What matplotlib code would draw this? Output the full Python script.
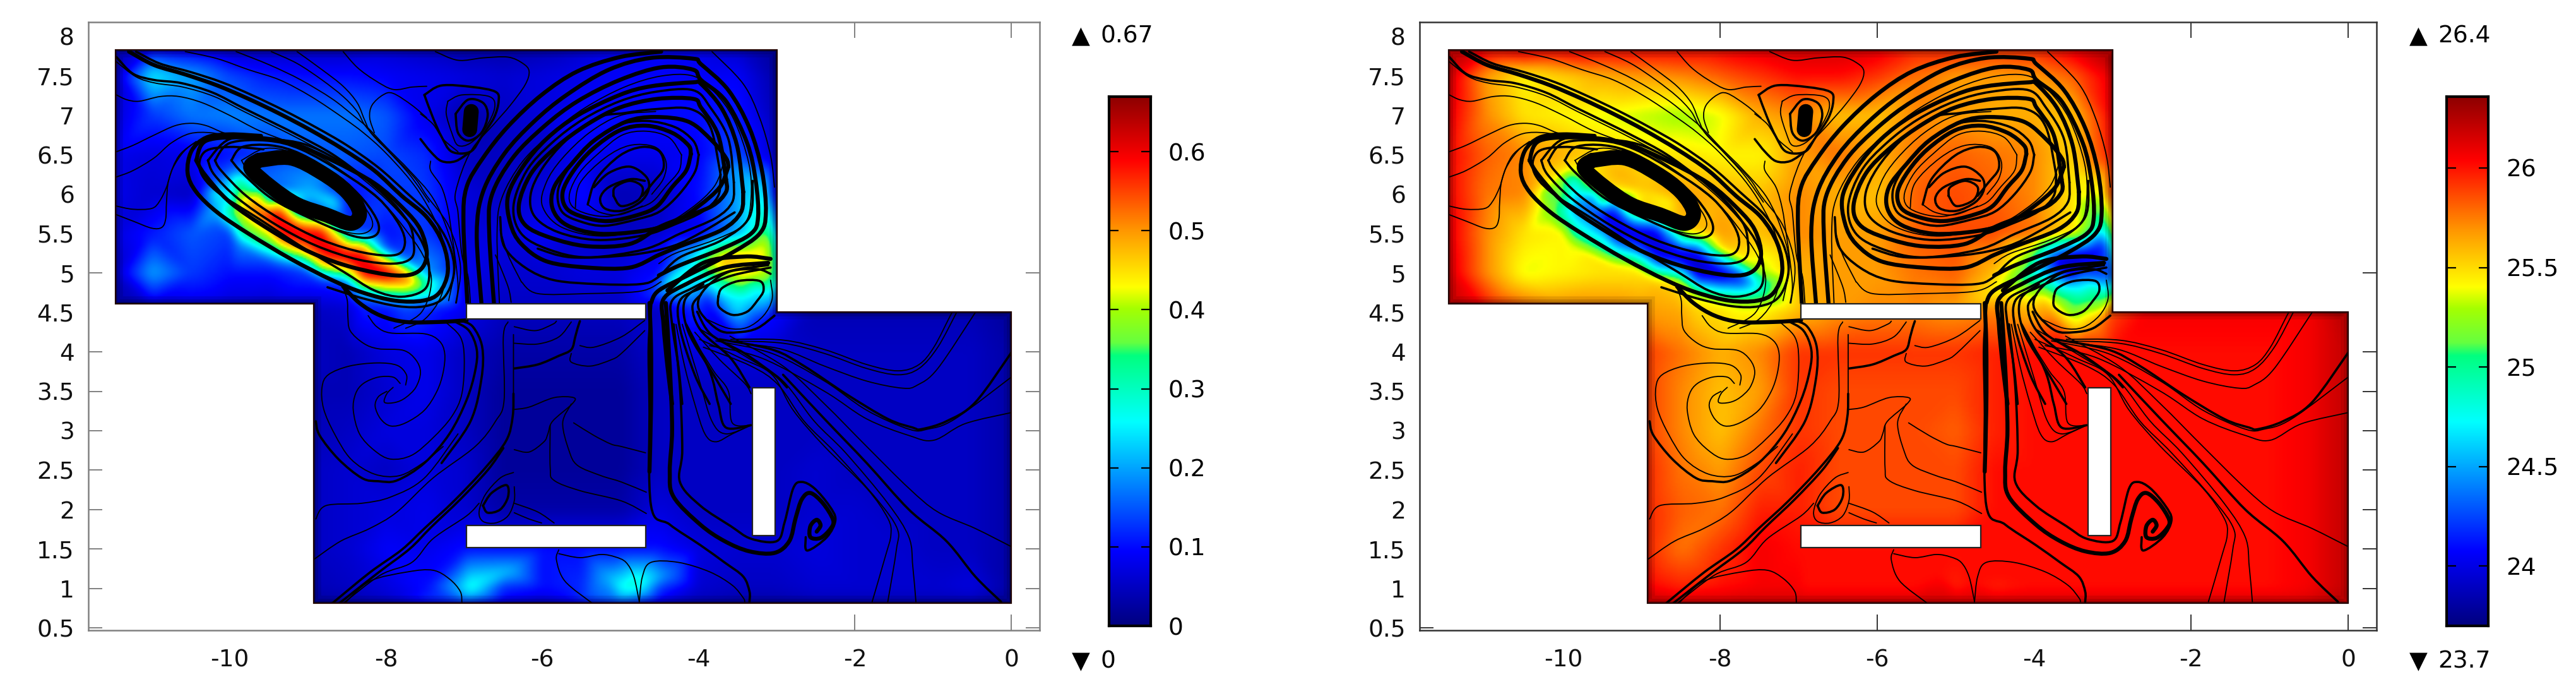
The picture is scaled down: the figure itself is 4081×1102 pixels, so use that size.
import numpy as np
import matplotlib
matplotlib.use("Agg")
import matplotlib.pyplot as plt
import matplotlib.tri as mtri
from matplotlib.colors import LinearSegmentedColormap
from matplotlib.patches import PathPatch, Rectangle
from matplotlib.path import Path

n = np.nan

# ---- geometry, in plot units
DOMAIN_X = [-11.46, -11.46, -3.0, -3.0, 0.0, 0.0, -8.93, -8.93, -11.46]
DOMAIN_Y = [4.61, 7.83, 7.83, 4.51, 4.51, 0.81, 0.81, 4.61, 4.61]
# x0, y0, x1, y1
OBSTACLES = [(-6.97, 4.42, -4.68, 4.61), (-6.97, 1.52, -4.68, 1.80), (-3.31, 1.67, -3.02, 3.545)]

X_TICKS = [-10, -8, -6, -4, -2, 0]
Y_TICKS = [0.5, 1, 1.5, 2, 2.5, 3, 3.5, 4, 4.5, 5, 5.5, 6, 6.5, 7, 7.5, 8]
Y_LABELS = ["0.5", "1", "1.5", "2", "2.5", "3", "3.5", "4", "4.5", "5", "5.5", "6", "6.5", "7", "7.5", "8"]

SPEED_TICKS = [0, 0.1, 0.2, 0.3, 0.4, 0.5, 0.6]
TEMP_TICKS = [24, 24.5, 25, 25.5, 26]

# ---- coarse field samples
FIELD_X = [-11.5, -11, -10.5, -10, -9.5, -9, -8.5, -8, -7.5, -7, -6.5, -6, -5.5, -5, -4.5, -4, -3.5, -3,
           -2.5, -2, -1.5, -1, -0.5, 0]
FIELD_Y = [7.85, 7.5, 7, 6.5, 6, 5.5, 5, 4.55, 4, 3.5, 3, 2.5, 2, 1.5, 1, 0.8]

TEMP_TOP = [
    [26.3, 26.15, 26.2, 26.15, 26.1, 26.1, 26.1, 26.1, 26.15, 26.2, 26.2, 26.15, 26.0, 26.0, 25.95, 26.0, 26.15, 26.35],
    [26.2, 25.7, 25.45, 25.55, 25.65, 25.7, 25.75, 25.85, 25.95, 26.05, 26.05, 25.95, 25.8, 25.7, 25.7, 25.7, 25.85, 26.15],
    [26.15, 25.75, 25.5, 25.45, 25.4, 25.35, 25.3, 25.4, 25.65, 25.75, 25.6, 25.6, 25.75, 25.7, 25.65, 25.65, 25.6, 26.1],
    [26.1, 25.85, 25.75, 25.65, 25.55, 25.5, 25.5, 25.45, 25.45, 25.7, 25.8, 25.65, 25.8, 25.85, 25.8, 25.75, 25.55, 26.05],
    [26.1, 25.8, 25.75, 25.2, 25.5, 25.5, 25.7, 25.65, 25.6, 25.75, 25.65, 25.6, 25.85, 25.9, 25.85, 25.75, 25.5, 26.0],
    [26.15, 25.75, 25.5, 25.45, 24.6, 23.9, 25.2, 25.7, 25.6, 25.75, 25.7, 25.7, 25.85, 25.9, 25.9, 25.8, 25.5, 25.3],
    [26.2, 25.75, 25.4, 25.45, 25.5, 25.5, 24.7, 23.95, 25.3, 25.65, 25.7, 25.7, 25.8, 25.85, 25.6, 24.8, 23.9, 24.2],
]
TEMP_MID = [26.25, 26.05, 25.85, 25.75, 25.75, 25.7, 25.65, 25.5, 25.4, 25.6, 25.7, 25.75, 25.75, 25.7, 25.75, 25.6, 25.1, 25.9,
            26.1, 26.1, 26.1, 26.1, 26.1, 26.3]
TEMP_LOW = [
    [25.95, 25.8, 25.65, 25.75, 25.95, 25.95, 25.95, 25.95, 25.95, 26.0, 26.05, 26.05, 26.05, 26.05, 26.05, 26.05, 26.05, 26.1, 26.25],
    [25.95, 25.75, 25.6, 25.7, 25.95, 25.9, 25.9, 25.9, 25.9, 26.0, 26.05, 26.05, 26.05, 26.05, 26.05, 26.05, 26.05, 26.1, 26.25],
    [25.95, 25.75, 25.6, 25.8, 25.95, 25.9, 25.9, 25.9, 25.85, 26.0, 26.05, 26.05, 26.05, 26.05, 26.05, 26.05, 26.05, 26.1, 26.25],
    [26.0, 25.8, 25.7, 25.9, 26.0, 25.9, 25.9, 25.9, 25.9, 26.05, 26.05, 26.05, 26.05, 26.05, 26.05, 26.05, 26.05, 26.1, 26.25],
    [26.0, 25.85, 25.8, 26.0, 26.0, 25.9, 25.9, 25.9, 25.9, 26.05, 26.05, 26.05, 26.05, 26.05, 26.05, 26.05, 26.05, 26.1, 26.25],
    [26.0, 25.8, 25.95, 26.1, 26.05, 26.05, 26.05, 26.05, 26.05, 26.05, 26.05, 26.05, 26.05, 26.05, 26.05, 26.05, 26.05, 26.1, 26.25],
    [26.1, 26.0, 26.05, 26.1, 26.1, 26.05, 26.05, 26.05, 26.0, 26.0, 26.05, 26.05, 26.05, 26.05, 26.05, 26.05, 26.05, 26.1, 26.25],
    [26.25, 26.2, 26.2, 26.2, 26.2, 26.2, 26.2, 26.2, 26.2, 26.2, 26.2, 26.2, 26.2, 26.2, 26.2, 26.2, 26.2, 26.2, 26.3],
]

SPEED_TOP = [
    [.03, .1, .08, .05, .05, .05, .05, .06, .05, .03, .03, .04, .06, .08, .09, .08, .06, .02],
    [.05, .25, .2, .14, .11, .1, .1, .09, .08, .07, .06, .07, .08, .09, .09, .09, .09, .03],
    [.06, .13, .17, .18, .17, .17, .17, .15, .08, .03, .05, .07, .1, .1, .1, .1, .11, .04],
    [.08, .07, .08, .1, .13, .15, .15, .14, .12, .05, .05, .05, .09, .08, .08, .09, .14, .05],
    [.08, .06, .05, .22, .18, .22, .1, .13, .13, .07, .05, .07, .1, .04, .05, .1, .2, .06],
    [.07, .11, .15, .13, .42, .62, .22, .1, .13, .07, .07, .09, .06, .05, .06, .08, .2, .2],
    [.05, .2, .13, .1, .1, .13, .38, .62, .2, .08, .06, .06, .07, .07, .1, .28, .42, .3],
]
SPEED_MID = [.03, .06, .07, .06, .05, .05, .06, .1, .12, .08, .05, .05, .05, .05, .05, .12, .25, .1,
             .04, .04, .04, .04, .04, .02]
SPEED_LOW = [
    [.05, .04, .07, .08, .05, .03, .03, .03, .03, .06, .07, .07, .06, .05, .05, .05, .05, .05, .03],
    [.04, .04, .06, .08, .05, .02, .02, .02, .02, .05, .05, .05, .05, .05, .05, .05, .05, .05, .03],
    [.04, .05, .07, .07, .05, .02, .02, .02, .02, .05, .05, .05, .05, .05, .05, .05, .05, .05, .03],
    [.05, .06, .05, .07, .06, .02, .02, .02, .02, .05, .05, .05, .05, .06, .05, .05, .05, .05, .03],
    [.05, .06, .07, .08, .06, .03, .03, .03, .03, .07, .05, .05, .05, .06, .06, .05, .05, .05, .03],
    [.05, .06, .09, .08, .1, .1, .1, .1, .1, .1, .07, .06, .06, .07, .06, .06, .05, .05, .03],
    [.04, .05, .07, .1, .24, .12, .1, .12, .27, .13, .06, .05, .05, .06, .06, .06, .06, .07, .03],
    [.02, .03, .05, .12, .15, .08, .06, .12, .17, .08, .04, .03, .03, .04, .04, .04, .04, .04, .01],
]

# extra samples on the narrow jets and the two ovals
SPOT_X = [-10.16, -10.16, -10.16, -10.16,
          -9.89, -9.89, -9.89, -9.89, -9.89, -9.89,
          -9.6, -9.6, -9.6, -9.6, -9.6, -9.6,
          -9.36, -9.36, -9.36, -9.36, -9.36, -9.36, -9.36, -9.36,
          -9.1, -9.1, -9.1, -9.1, -9.1,
          -8.82, -8.82, -8.82, -8.82, -8.82, -8.82, -8.82, -8.82,
          -8.55, -8.55, -8.55, -8.55, -8.55,
          -8.29, -8.29, -8.29, -8.29, -8.29, -8.29, -8.29, -8.29,
          -8.0, -8.0, -8.0, -8.0, -8.0,
          -7.75, -7.75, -7.75, -7.75, -7.75, -7.75,
          -7.48, -7.48, -7.48, -7.48,
          -9.01, -9.3, -8.7,
          -3.41, -3.67, -3.25, -3.46, -3.14, -3.46, -3.08, -3.89,
          -3.67, -3.27, -3.08, -3.94, -4.35, -4.61, -3.25, -3.67, -3.54, -4.08, -3.08,
          -3.16, -3.11, -3.49,
          -6.95, -6.45, -4.8, -5.2, -4.4]
SPOT_Y = [6.19, 6.03, 5.82, 5.63,
          6.30, 6.19, 5.98, 5.77, 5.50, 5.37,
          6.15, 6.0, 5.76, 5.55, 5.35, 5.2,
          6.06, 5.93, 5.79, 5.63, 5.45, 5.29, 5.18, 5.10,
          5.80, 5.68, 5.5, 5.3, 5.12,
          5.79, 5.67, 5.55, 5.37, 5.21, 5.07, 4.97, 4.86,
          5.62, 5.5, 5.24, 5.0, 4.88,
          5.50, 5.42, 5.26, 5.10, 4.94, 4.83, 4.73, 4.62,
          5.3, 5.2, 4.97, 4.78, 4.62,
          5.18, 5.07, 4.94, 4.80, 4.73, 4.57,
          4.97, 4.86, 4.73, 4.62,
          6.09, 6.25, 5.9,
          4.67, 4.67, 4.83, 4.97, 4.94, 4.38, 4.62, 4.65,
          5.15, 5.26, 5.10, 5.10, 4.89, 4.70, 4.35, 4.22, 5.42, 5.23, 5.34,
          6.03, 5.63, 6.3,
          1.0, 1.2, 1.05, 1.15, 1.15]
SPOT_TEMP = [25.5, 25.0, 25.2, 25.4,
             25.4, 24.7, 24.6, 24.6, 25.0, 25.4,
             25.5, 24.6, 24.2, 24.6, 25.0, 25.5,
             25.5, 24.6, 24.1, 23.9, 24.2, 24.8, 25.2, 25.5,
             25.5, 24.6, 23.9, 24.4, 25.3,
             25.6, 24.7, 24.1, 23.9, 24.1, 24.6, 25.3, 25.6,
             25.6, 24.8, 23.9, 24.7, 25.5,
             25.6, 24.9, 24.1, 23.8, 24.1, 24.7, 25.3, 25.5,
             25.5, 24.7, 23.9, 24.7, 25.4,
             25.5, 24.7, 24.1, 24.5, 24.9, 25.4,
             25.3, 24.8, 25.0, 25.3,
             25.6, 25.65, 25.4,
             25.0, 25.2, 24.9, 24.3, 24.3, 25.4, 25.2, 25.6,
             23.9, 24.0, 24.3, 24.6, 25.3, 25.5, 25.7, 26.0, 24.9, 25.3, 24.2,
             25.4, 24.9, 25.5,
             26.05, 26.05, 26.05, 26.05, 26.05]
SPOT_SPEED = [.15, .28, .22, .15,
              .18, .33, .42, .42, .3, .18,
              .16, .42, .56, .42, .3, .15,
              .16, .4, .56, .63, .55, .33, .22, .14,
              .15, .42, .63, .48, .2,
              .13, .38, .56, .63, .56, .42, .2, .11,
              .13, .35, .63, .38, .13,
              .13, .33, .56, .64, .56, .38, .2, .12,
              .14, .38, .62, .38, .14,
              .14, .38, .55, .42, .32, .14,
              .2, .33, .28, .15,
              .2, .17, .27,
              .25, .22, .27, .45, .4, .18, .2, .1,
              .5, .45, .4, .38, .28, .12, .1, .05, .3, .22, .4,
              .25, .32, .2,
              .28, .22, .3, .2, .18]

# ---- streamlines, grouped by how heavy they look
STREAM_THIN = [
    [(-11.45, 7.26), (-11.32, 7.20), (-11.16, 7.18), (-10.89, 7.24), (-10.65, 7.24), (-10.35, 7.16), (-10.0, 7.0), (-9.63, 6.81), (-9.22, 6.65), (-8.82, 6.46), (-8.42, 6.19), (-8.02, 5.87), (-7.75, 5.55), (-7.53, 5.23), (-7.42, 4.9), (-7.55, 4.5), (-7.9, 4.3)],
    [(-11.45, 6.54), (-11.24, 6.62), (-10.97, 6.75), (-10.70, 6.87), (-10.49, 6.90), (-10.30, 6.87), (-10.08, 6.78), (-9.84, 6.72)],
    [(-11.45, 6.22), (-11.24, 6.30), (-10.97, 6.46), (-10.75, 6.65), (-10.51, 6.77), (-10.24, 6.78), (-10.0, 6.73)],
    [(-11.45, 5.85), (-11.24, 5.81), (-11.0, 5.82), (-10.9, 5.91), (-10.81, 6.09), (-10.73, 6.33), (-10.59, 6.54), (-10.43, 6.66), (-10.24, 6.70)],
    [(-11.45, 5.74), (-11.24, 5.66), (-11.0, 5.57), (-10.87, 5.58), (-10.82, 5.69), (-10.81, 5.90), (-10.78, 6.19), (-10.65, 6.49), (-10.43, 6.67)],
    [(-10.57, 7.81), (-10.16, 7.72), (-9.76, 7.58), (-9.36, 7.45), (-8.96, 7.24), (-8.55, 6.97), (-8.29, 6.78), (-8.02, 6.54), (-7.70, 6.19), (-7.48, 5.87), (-7.3, 5.5), (-7.22, 5.1), (-7.3, 4.7), (-7.5, 4.42), (-7.75, 4.3)],
    [(-9.92, 7.81), (-9.49, 7.64), (-9.09, 7.45), (-8.69, 7.21), (-8.42, 7.0), (-8.23, 6.84), (-8.0, 6.6), (-7.7, 6.3), (-7.4, 5.95), (-7.2, 5.5), (-7.12, 5.1), (-7.2, 4.65)],
    [(-9.47, 7.81), (-9.14, 7.66), (-8.82, 7.45), (-8.55, 7.24), (-8.37, 7.05), (-8.26, 6.86), (-8.02, 6.60), (-7.7, 6.25), (-7.45, 5.9)],
    [(-9.14, 7.81), (-8.82, 7.58), (-8.55, 7.37), (-8.37, 7.16), (-8.27, 6.93), (-8.18, 6.76), (-7.88, 6.46), (-7.62, 6.19), (-7.48, 5.98), (-7.2, 5.6), (-7.05, 5.1), (-7.1, 4.62)],
    [(-8.55, 7.81), (-8.37, 7.61), (-8.15, 7.45), (-7.91, 7.33), (-7.67, 7.36), (-7.48, 7.37)],
    [(-7.37, 7.81), (-7.08, 7.70), (-6.76, 7.73), (-6.44, 7.74), (-6.25, 7.66), (-6.17, 7.56), (-6.22, 7.39), (-6.41, 7.13), (-6.62, 6.89), (-6.92, 6.54), (-7.11, 6.03), (-7.08, 5.77), (-7.03, 5.23), (-6.95, 4.95), (-6.92, 4.61)],
    [(-7.48, 6.97), (-7.67, 7.13), (-7.91, 7.28), (-8.04, 7.26), (-8.18, 7.13), (-8.21, 6.97), (-8.15, 6.78)],
    [(-7.21, 7.18), (-7.03, 7.26), (-6.68, 7.24), (-6.61, 7.10), (-6.73, 6.84), (-6.92, 6.65), (-7.08, 6.62), (-7.16, 6.78), (-7.23, 7.02), (-7.21, 7.18)],
    [(-7.43, 6.42), (-7.43, 6.30), (-7.29, 6.09), (-7.21, 5.82), (-7.16, 5.50), (-7.11, 5.15), (-7.08, 4.83), (-7.11, 4.62)],
    [(-7.56, 7.02), (-7.40, 6.89), (-7.27, 6.70), (-7.08, 6.54)],
    [(-8.23, 4.46), (-8.12, 4.32), (-7.94, 4.24), (-7.51, 4.23), (-7.32, 4.14), (-7.25, 3.98), (-7.27, 3.74), (-7.35, 3.50), (-7.51, 3.26), (-7.75, 3.10), (-7.94, 3.06), (-8.07, 3.15), (-8.14, 3.31), (-8.10, 3.43), (-7.99, 3.50)],
    [(-8.58, 4.88), (-8.5, 4.67), (-8.49, 4.46), (-8.46, 4.27), (-8.29, 4.11), (-8.10, 4.04), (-7.78, 4.02), (-7.62, 3.90), (-7.56, 3.74), (-7.62, 3.55), (-7.75, 3.42), (-7.88, 3.36), (-8.02, 3.36), (-7.99, 3.47), (-7.91, 3.55)],
    [(-7.75, 3.58), (-7.74, 3.71), (-7.86, 3.83), (-8.12, 3.86), (-8.47, 3.82), (-8.74, 3.71), (-8.82, 3.55), (-8.80, 3.28), (-8.66, 2.96), (-8.45, 2.64), (-8.15, 2.45), (-7.83, 2.43), (-7.53, 2.59), (-7.27, 2.80)],
    [(-7.82, 3.60), (-7.91, 3.68), (-8.10, 3.68), (-8.29, 3.60), (-8.39, 3.47), (-8.42, 3.26), (-8.34, 2.96), (-8.15, 2.75), (-7.94, 2.64), (-7.67, 2.69), (-7.40, 2.91), (-7.16, 3.18), (-7.03, 3.47), (-7.0, 3.92), (-7.05, 4.19), (-7.24, 4.38)],
    [(-8.90, 1.88), (-8.77, 2.05), (-8.31, 2.08), (-7.94, 2.16), (-7.51, 2.40), (-7.08, 2.96)],
    [(-8.92, 1.37), (-8.58, 1.60), (-8.21, 1.76), (-7.86, 1.97), (-7.40, 2.40), (-6.86, 2.80), (-6.60, 3.12), (-6.49, 3.39), (-6.50, 4.19), (-6.44, 4.38)],
    [(-8.55, 0.81), (-8.07, 1.17), (-7.67, 1.33), (-7.40, 1.63), (-6.97, 1.92), (-6.81, 2.08)],
    [(-8.53, 0.81), (-8.21, 1.09), (-7.72, 1.21), (-7.40, 1.23), (-7.19, 1.12), (-7.05, 0.96), (-7.03, 0.81)],
    [(-6.37, 2.47), (-6.54, 2.40), (-6.73, 2.19), (-6.81, 1.97), (-6.76, 1.85), (-6.60, 1.83), (-6.44, 1.92), (-6.36, 2.11), (-6.36, 2.29)],
    [(-6.36, 2.08), (-6.06, 1.97), (-5.85, 1.83)],
    [(-6.36, 1.96), (-6.17, 1.88), (-6.01, 1.83)],
    [(-6.36, 3.27), (-6.17, 3.30), (-5.85, 3.42), (-5.60, 3.42), (-5.62, 3.34), (-5.87, 3.12), (-5.93, 2.96), (-5.98, 2.86), (-6.17, 2.73), (-6.36, 2.76)],
    [(-5.90, 3.07), (-5.90, 2.53), (-5.85, 2.37), (-5.52, 2.24), (-4.99, 2.11), (-4.67, 1.95)],
    [(-5.63, 3.34), (-5.74, 3.10), (-5.66, 2.75), (-5.55, 2.56), (-5.25, 2.43), (-4.99, 2.35), (-4.67, 2.22)],
    [(-5.60, 3.10), (-5.34, 2.94), (-5.12, 2.83), (-4.99, 2.80), (-4.68, 2.72)],
    [(-6.36, 4.11), (-6.06, 4.10), (-5.79, 4.19), (-5.63, 4.38)],
    [(-6.36, 4.32), (-6.09, 4.27), (-5.87, 4.35), (-5.82, 4.39)],
    [(-5.63, 3.98), (-5.63, 3.87), (-5.39, 3.82), (-5.12, 3.90), (-4.99, 3.98), (-4.69, 4.27)],
    [(-5.52, 4.08), (-5.34, 4.06), (-4.99, 4.19), (-4.69, 4.40)],
    [(-6.37, 4.22), (-6.37, 3.47)],
    [(-5.79, 1.49), (-5.82, 1.36), (-5.71, 1.09), (-5.36, 0.81)],
    [(-5.79, 1.44), (-5.52, 1.39), (-5.25, 1.43), (-5.07, 1.40), (-4.93, 1.33), (-4.83, 1.15), (-4.76, 0.83)],
    [(-4.76, 0.83), (-4.72, 1.15), (-4.61, 1.33), (-4.26, 1.33), (-3.86, 1.21), (-3.57, 1.04), (-3.43, 0.88), (-3.41, 0.83)],
    [(-4.29, 4.35), (-4.18, 3.82), (-4.05, 3.34), (-3.92, 2.96), (-3.78, 2.86), (-3.57, 2.96), (-3.33, 3.07)],
    [(-4.21, 4.35), (-3.99, 3.63), (-3.83, 3.12), (-3.65, 2.96), (-3.33, 3.07)],
    [(-4.10, 4.22), (-3.81, 3.76), (-3.62, 3.5), (-3.57, 3.10), (-3.33, 3.07)],
    [(-4.05, 4.25), (-3.73, 3.90), (-3.41, 3.6), (-3.33, 3.47)],
    [(-3.59, 4.16), (-2.92, 4.15), (-2.39, 4.03), (-1.85, 3.84), (-1.45, 3.76), (-1.18, 3.84), (-0.99, 4.06), (-0.78, 4.46), (-0.75, 4.51)],
    [(-3.59, 4.14), (-2.92, 4.11), (-2.39, 3.98), (-1.85, 3.79), (-1.45, 3.71), (-1.18, 3.79), (-0.94, 4.06), (-0.70, 4.50)],
    [(-3.46, 4.11), (-2.92, 4.03), (-2.39, 3.82), (-1.85, 3.63), (-1.39, 3.54), (-1.2, 3.58), (-0.94, 3.79), (-0.46, 4.50)],
    [(-3.78, 4.14), (-3.06, 3.98), (-2.39, 3.63), (-1.85, 3.26), (-1.31, 3.02), (-1.07, 3.02), (-0.72, 3.15), (0.0, 3.68)],
    [(-3.86, 4.08), (-3.19, 3.92), (-2.39, 3.5), (-1.85, 3.15), (-1.31, 2.94), (-0.99, 2.88), (-0.59, 3.09), (0.0, 3.23)],
    [(-3.99, 4.16), (-3.46, 3.92), (-3.06, 3.71), (-2.79, 3.26), (-2.39, 2.80), (-1.85, 2.27), (-1.58, 1.89), (-1.54, 1.68), (-1.61, 1.41), (-1.78, 0.83)],
    [(-3.94, 4.06), (-3.33, 3.82), (-2.98, 3.58), (-2.65, 3.12), (-2.25, 2.72), (-1.72, 2.13), (-1.46, 1.76), (-1.47, 1.49), (-1.58, 0.83)],
    [(-4.0, 4.3), (-3.33, 3.90), (-2.92, 3.63), (-2.52, 3.12), (-2.12, 2.72), (-1.58, 2.08), (-1.31, 1.65), (-1.26, 1.28), (-1.22, 0.83)],
    [(-3.6, 4.2), (-2.92, 3.82), (-2.39, 3.34), (-1.85, 2.80), (-1.31, 2.27), (-0.94, 1.97), (-0.46, 1.76), (0.0, 1.53)],
    [(-3.83, 7.81), (-3.43, 7.40), (-3.22, 6.97), (-3.08, 6.49), (-3.03, 6.09)],
    [(-6.27, 4.89), (-6.06, 4.74), (-5.42, 4.74), (-4.75, 4.77), (-4.48, 4.89)],
    [(-6.54, 5.55), (-6.44, 5.23), (-6.27, 4.89)],
    [(-6.6, 5.23), (-6.44, 4.83), (-6.4, 4.63)],
    [(-3.08, 4.91), (-3.06, 4.67), (-3.17, 4.46), (-3.38, 4.31), (-3.62, 4.30), (-3.89, 4.41)],
    [(-5.42, 5.87), (-5.26, 5.77), (-5.01, 5.74), (-4.72, 5.85)],
    [(-5.58, 5.82), (-5.52, 6.14), (-5.2, 6.46), (-4.88, 6.62), (-4.56, 6.6), (-4.42, 6.42), (-4.45, 6.2), (-4.6, 6.0)],
    [(-6.55, 4.62), (-6.58, 5.5), (-6.52, 5.95), (-6.25, 6.42), (-5.85, 6.8), (-5.45, 7.1), (-4.95, 7.36), (-4.48, 7.5), (-4.07, 7.5), (-3.8, 7.3), (-3.55, 6.95), (-3.36, 6.4), (-3.33, 5.95), (-3.42, 5.62), (-3.8, 5.42), (-4.3, 5.25), (-4.51, 5.12)],
    [(-3.68, 6.4), (-3.8, 6.1), (-4.1, 5.82), (-4.5, 5.6), (-5.2, 5.47), (-5.75, 5.58), (-6.0, 5.85), (-5.95, 6.15), (-5.75, 6.45), (-5.4, 6.78), (-5.0, 7.0), (-4.55, 7.05)],
    [(-4.22, 6.5), (-4.25, 6.3), (-4.42, 6.1), (-4.6, 5.9), (-4.85, 5.8), (-5.15, 5.72), (-5.42, 5.75), (-5.62, 5.85), (-5.65, 6.02), (-5.52, 6.28), (-5.28, 6.52), (-4.98, 6.75), (-4.67, 6.8), (-4.38, 6.72), (-4.22, 6.5)],
    [(-9.85, 6.43), (-9.7, 6.2), (-9.3, 5.88), (-8.8, 5.62), (-8.4, 5.5), (-8.2, 5.55), (-8.2, 5.72), (-8.45, 6.05), (-8.8, 6.33), (-9.2, 6.53), (-9.55, 6.58), (-9.85, 6.43)],
    [(-11.45, 7.68), (-11.2, 7.49), (-10.95, 7.41), (-10.6, 7.36), (-10.2, 7.24), (-9.82, 7.05), (-9.45, 6.87), (-9.07, 6.68), (-8.67, 6.46), (-8.27, 6.17), (-7.94, 5.88), (-7.67, 5.58), (-7.47, 5.3)],
]

STREAM_MEDIUM = [
    [(-7.51, 7.26), (-7.29, 7.38), (-6.89, 7.36), (-6.60, 7.30), (-6.56, 7.18), (-6.62, 6.97), (-6.78, 6.73), (-6.92, 6.54), (-7.16, 6.54), (-7.29, 6.73), (-7.40, 6.97), (-7.51, 7.26)],
    [(-7.11, 7.02), (-6.95, 7.20), (-6.76, 7.16), (-6.70, 7.0), (-6.78, 6.78), (-6.95, 6.68), (-7.08, 6.78), (-7.11, 7.02)],
    [(-7.56, 6.70), (-7.43, 6.54), (-7.29, 6.42), (-7.11, 6.42), (-6.92, 6.54)],
    [(-9.98, 6.43), (-9.84, 6.27), (-9.47, 5.95), (-8.96, 5.69), (-8.42, 5.47), (-8.15, 5.47), (-8.10, 5.63), (-8.29, 5.93), (-8.61, 6.22), (-9.09, 6.51), (-9.47, 6.62), (-9.84, 6.60), (-9.98, 6.43)],
    [(-10.19, 6.43), (-10.11, 6.30), (-9.79, 5.98), (-9.36, 5.69), (-8.82, 5.42), (-8.29, 5.26), (-7.88, 5.23), (-7.76, 5.37), (-7.83, 5.61), (-8.10, 5.95), (-8.55, 6.27), (-9.09, 6.57), (-9.52, 6.68), (-10.0, 6.65), (-10.19, 6.43)],
    [(-10.28, 6.43), (-10.2, 6.25), (-9.9, 5.95), (-9.42, 5.62), (-8.9, 5.35), (-8.35, 5.17), (-7.9, 5.12), (-7.67, 5.2), (-7.65, 5.42), (-7.72, 5.65), (-8.0, 5.98), (-8.45, 6.33), (-9.0, 6.62), (-9.5, 6.7), (-10.0, 6.7), (-10.28, 6.43)],
    [(-11.45, 7.74), (-11.24, 7.53), (-10.97, 7.45), (-10.62, 7.41), (-10.22, 7.29), (-9.84, 7.10), (-9.47, 6.92), (-9.09, 6.73), (-8.69, 6.51), (-8.29, 6.22), (-7.96, 5.93), (-7.70, 5.63), (-7.53, 5.37), (-7.45, 5.07), (-7.5, 4.8), (-7.8, 4.7), (-8.15, 4.78), (-8.55, 5.02), (-9.09, 5.34), (-9.63, 5.69), (-10.16, 6.03), (-10.38, 6.30), (-10.32, 6.54), (-10.0, 6.60), (-9.57, 6.57)],
    [(-11.2, 7.81), (-10.9, 7.66), (-10.5, 7.55), (-10.1, 7.42), (-9.7, 7.25), (-9.3, 7.06), (-8.9, 6.85), (-8.5, 6.62), (-8.1, 6.34), (-7.75, 6.03), (-7.42, 5.72), (-7.2, 5.37), (-7.13, 5.02), (-7.25, 4.7), (-7.5, 4.58), (-7.85, 4.58), (-8.3, 4.68), (-8.75, 4.82)],
    [(-8.90, 3.12), (-8.85, 2.94), (-8.61, 2.64), (-8.31, 2.40), (-8.10, 2.36), (-7.86, 2.37), (-7.51, 2.59), (-7.19, 2.96), (-6.97, 3.39), (-6.86, 3.76), (-6.84, 4.03), (-6.94, 4.27), (-7.13, 4.39)],
    [(-7.29, 2.59), (-6.92, 3.12), (-6.78, 3.66), (-6.77, 4.06), (-6.89, 4.32), (-7.05, 4.40)],
    [(-8.6, 0.81), (-8.1, 1.2), (-7.7, 1.5), (-7.42, 1.78), (-7.05, 2.13), (-6.7, 2.5), (-6.5, 2.78)],
    [(-6.76, 2.05), (-6.65, 2.21), (-6.46, 2.31), (-6.44, 2.16), (-6.54, 2.00), (-6.70, 1.96), (-6.76, 2.05)],
    [(-6.36, 3.79), (-6.06, 3.84), (-5.79, 3.95), (-5.63, 4.03), (-5.58, 4.19), (-5.55, 4.30), (-5.52, 4.39)],
    [(-4.32, 4.35), (-4.24, 3.55), (-4.21, 2.75), (-4.24, 2.35), (-3.98, 2.05), (-3.59, 1.79), (-3.33, 1.63), (-3.0, 1.60), (-2.9, 1.84), (-2.79, 2.27), (-2.68, 2.35), (-2.52, 2.27), (-2.33, 2.05), (-2.25, 1.87), (-2.36, 1.65), (-2.61, 1.48), (-2.63, 1.65)],
    [(-4.16, 4.35), (-3.86, 3.76), (-3.75, 3.34), (-3.65, 3.04), (-3.33, 3.07)],
    [(-3.73, 4.16), (-3.06, 4.03), (-2.65, 3.82), (-2.12, 3.47), (-1.58, 3.15), (-1.26, 3.04), (-1.15, 3.02), (-0.83, 3.12), (-0.46, 3.36), (0.0, 3.99)],
    [(-4.60, 4.67), (-4.64, 4.08), (-4.63, 3.34), (-4.61, 2.05), (-4.37, 1.81), (-3.98, 1.55), (-3.67, 1.33), (-3.43, 1.15), (-3.35, 0.96), (-3.35, 0.83)],
    [(-8.69, 0.81), (-8.21, 1.20), (-7.80, 1.49), (-7.51, 1.76), (-7.13, 2.11), (-6.73, 2.53), (-6.46, 2.88), (-6.38, 3.18), (-6.37, 3.47)],
    [(-3.75, 4.70), (-3.70, 4.81), (-3.49, 4.90), (-3.22, 4.90), (-3.17, 4.78), (-3.25, 4.65), (-3.38, 4.51), (-3.57, 4.47), (-3.74, 4.57), (-3.75, 4.70)],
    [(-3.03, 4.46), (-3.25, 4.30), (-3.49, 4.25), (-3.73, 4.27), (-3.97, 4.49), (-4.0, 4.67), (-3.86, 4.86), (-3.6, 5.02), (-3.25, 5.05), (-3.08, 4.99)],
    [(-3.11, 5.10), (-3.62, 5.02), (-4.08, 4.81), (-4.34, 4.65), (-4.34, 4.35), (-4.26, 3.82), (-4.21, 3.34)],
    [(-3.08, 5.07), (-3.57, 4.97), (-3.97, 4.81), (-4.24, 4.65), (-4.24, 4.30), (-4.05, 3.71), (-3.86, 3.34)],
    [(-3.94, 4.86), (-4.18, 4.65), (-4.13, 4.25), (-3.81, 3.71), (-3.59, 3.34)],
    [(-3.97, 4.73), (-4.08, 4.57), (-3.97, 4.27), (-3.59, 3.92), (-3.35, 3.55)],
    [(-4.02, 4.51), (-3.84, 4.22), (-3.41, 3.98), (-3.03, 3.71), (-2.87, 3.55)],
    [(-6.54, 5.71), (-6.49, 5.34), (-6.22, 5.07), (-5.85, 4.91), (-5.28, 4.86), (-4.75, 4.86), (-4.53, 4.94), (-4.24, 5.2), (-3.70, 5.42), (-3.35, 5.71), (-3.31, 6.17)],
    [(-6.06, 5.31), (-5.63, 5.2), (-4.88, 5.23), (-4.34, 5.34), (-3.94, 5.53), (-3.54, 5.77)],
    [(-5.42, 5.87), (-5.31, 6.19), (-5.01, 6.49), (-4.72, 6.60), (-4.50, 6.54), (-4.45, 6.33), (-4.59, 6.14), (-4.72, 5.98)],
    [(-4.69, 6.17), (-4.88, 6.19), (-5.15, 6.09), (-5.26, 5.95), (-5.2, 5.82), (-4.99, 5.79), (-4.75, 5.90), (-4.64, 6.06), (-4.67, 6.22), (-4.88, 6.35), (-5.15, 6.27), (-5.34, 6.09)],
    [(-5.09, 5.98), (-4.99, 5.85), (-4.77, 5.93), (-4.72, 6.09), (-4.88, 6.17), (-5.07, 6.09), (-5.09, 5.98)],
    [(-2.92, 3.71), (-2.39, 3.15), (-1.85, 2.59), (-1.31, 2.0), (-0.83, 1.60), (-0.46, 1.15), (-0.13, 0.83)],
    [(-3.55, 6.15), (-3.57, 5.9), (-3.78, 5.7), (-4.24, 5.5), (-4.7, 5.3), (-5.42, 5.2), (-5.92, 5.3), (-6.27, 5.5), (-6.37, 5.85), (-6.2, 6.3), (-5.88, 6.65), (-5.48, 6.95), (-5.01, 7.18), (-4.55, 7.3), (-4.07, 7.32), (-3.85, 7.1), (-3.62, 6.7), (-3.55, 6.15)],
    [(-3.72, 6.25), (-3.75, 5.98), (-3.95, 5.78), (-4.3, 5.62), (-4.7, 5.48), (-5.3, 5.42), (-5.8, 5.52), (-6.1, 5.72), (-6.15, 6.0), (-6.0, 6.33), (-5.7, 6.68), (-5.3, 6.97), (-4.95, 7.03), (-4.55, 7.08), (-4.1, 7.08), (-3.85, 6.85), (-3.72, 6.25)],
    [(-4.0, 6.5), (-4.05, 6.28), (-4.25, 6.0), (-4.5, 5.78), (-4.8, 5.68), (-5.2, 5.6), (-5.5, 5.65), (-5.75, 5.78), (-5.8, 6.05), (-5.65, 6.35), (-5.4, 6.62), (-5.05, 6.87), (-4.67, 6.93), (-4.3, 6.85), (-4.07, 6.68), (-4.0, 6.5)],
]

STREAM_THICK = [
    [(-10.43, 6.43), (-10.32, 6.25), (-10.0, 5.90), (-9.49, 5.55), (-8.96, 5.26), (-8.42, 5.07), (-7.88, 4.97), (-7.59, 5.02), (-7.48, 5.23), (-7.56, 5.55), (-7.78, 5.82), (-8.15, 6.14), (-8.69, 6.43), (-9.22, 6.65), (-9.76, 6.72), (-10.30, 6.68), (-10.43, 6.43)],
    [(-9.6, 6.74), (-10.0, 6.76), (-10.3, 6.72), (-10.49, 6.55), (-10.54, 6.27), (-10.43, 6.03), (-10.16, 5.77), (-9.76, 5.50), (-9.22, 5.18), (-8.69, 4.91), (-8.29, 4.75), (-7.88, 4.65), (-7.53, 4.65), (-7.32, 4.75), (-7.21, 5.02), (-7.27, 5.37), (-7.48, 5.71), (-7.80, 5.98), (-8.15, 6.30), (-8.55, 6.57), (-8.96, 6.81), (-9.36, 7.02), (-9.76, 7.21), (-10.16, 7.38), (-10.57, 7.52), (-10.97, 7.64), (-11.29, 7.81)],
    [(-8.55, 4.83), (-8.34, 4.62), (-8.07, 4.46), (-7.75, 4.38), (-7.32, 4.38), (-6.97, 4.4)],
    [(-6.78, 4.62), (-6.84, 5.50), (-6.76, 6.03), (-6.49, 6.51), (-6.11, 6.92), (-5.69, 7.26), (-5.15, 7.58), (-4.61, 7.73), (-4.07, 7.72), (-3.97, 7.65), (-3.62, 7.32), (-3.35, 6.84), (-3.19, 6.30), (-3.14, 5.77), (-3.22, 5.50), (-3.57, 5.26), (-4.10, 4.99), (-4.51, 4.78), (-4.61, 4.62)],
    [(-6.96, 4.62), (-7.01, 5.63), (-6.97, 6.09), (-6.76, 6.46), (-6.44, 6.86), (-6.01, 7.26), (-5.55, 7.56), (-5.01, 7.74), (-4.48, 7.81)],
    [(-6.62, 4.62), (-6.68, 5.50), (-6.65, 5.98), (-6.38, 6.46), (-5.98, 6.86), (-5.55, 7.18), (-5.01, 7.45), (-4.48, 7.61), (-4.07, 7.58), (-3.97, 7.45), (-3.65, 7.18), (-3.38, 6.65), (-3.27, 6.17), (-3.24, 5.71), (-3.33, 5.50), (-3.70, 5.31), (-4.24, 5.10), (-4.51, 4.97)],
    [(-3.43, 6.03), (-3.46, 5.77), (-3.70, 5.55), (-4.24, 5.34), (-4.51, 5.23), (-4.88, 5.07), (-5.42, 5.07), (-5.95, 5.15), (-6.27, 5.37), (-6.41, 5.63), (-6.44, 5.98), (-6.25, 6.35), (-5.95, 6.70), (-5.55, 7.0), (-5.01, 7.26), (-4.61, 7.37), (-4.07, 7.42), (-3.97, 7.40), (-3.70, 7.08), (-3.51, 6.62), (-3.43, 6.03)],
    [(-3.65, 6.19), (-3.65, 6.03), (-3.83, 5.85), (-4.24, 5.69), (-4.51, 5.58), (-4.88, 5.37), (-5.42, 5.34), (-5.90, 5.45), (-6.22, 5.61), (-6.30, 5.87), (-6.14, 6.27), (-5.82, 6.60), (-5.42, 6.89), (-5.01, 7.10), (-4.53, 7.21), (-4.07, 7.21), (-3.97, 7.10), (-3.75, 6.75), (-3.65, 6.19)],
    [(-3.62, 6.35), (-3.73, 6.09), (-4.0, 5.85), (-4.34, 5.63), (-4.75, 5.53), (-5.28, 5.50), (-5.69, 5.61), (-5.87, 5.82), (-5.85, 6.09), (-5.63, 6.38), (-5.34, 6.68), (-4.93, 6.92), (-4.56, 6.98), (-4.13, 6.92), (-3.83, 6.68), (-3.65, 6.46), (-3.62, 6.35)],
    [(-4.10, 6.51), (-4.16, 6.30), (-4.34, 6.09), (-4.53, 5.85), (-4.77, 5.74), (-5.15, 5.66), (-5.47, 5.71), (-5.69, 5.82), (-5.74, 6.03), (-5.60, 6.30), (-5.36, 6.57), (-5.01, 6.81), (-4.67, 6.87), (-4.34, 6.78), (-4.13, 6.62), (-4.10, 6.51)],
    [(-4.63, 4.62), (-4.61, 4.08), (-4.61, 3.28), (-4.63, 2.48)],
    [(-4.42, 4.62), (-4.37, 3.82), (-4.34, 3.02), (-4.37, 2.48), (-4.32, 2.16), (-3.98, 1.81), (-3.67, 1.60), (-3.35, 1.47), (-3.03, 1.45), (-2.84, 1.60), (-2.76, 1.89), (-2.68, 2.13), (-2.57, 2.21), (-2.41, 2.08), (-2.28, 1.87), (-2.31, 1.76), (-2.44, 1.64), (-2.57, 1.65), (-2.57, 1.79), (-2.49, 1.87), (-2.44, 1.80), (-2.49, 1.72)],
    [(-3.11, 5.13), (-3.67, 5.07), (-4.16, 4.86), (-4.45, 4.67), (-4.45, 4.35), (-4.40, 3.82), (-4.34, 3.34)],
    [(-4.4, 4.78), (-3.94, 5.13), (-3.41, 5.21), (-3.08, 5.18)],
]

# the black cores of the tightest vortices
STREAM_CORE = [
    [(-9.63, 6.43), (-9.22, 6.46), (-8.82, 6.27), (-8.50, 6.03), (-8.34, 5.77), (-8.45, 5.63), (-8.77, 5.74), (-9.14, 5.87), (-9.47, 6.09), (-9.73, 6.33), (-9.63, 6.43)],
    [(-6.91, 7.05), (-6.93, 6.82)],
]

STREAM_STYLES = [(STREAM_THIN, 1.3), (STREAM_MEDIUM, 2.6), (STREAM_THICK, 4.6), (STREAM_CORE, 17.0)]

cmap_stops = [(0.0, (0, 0, 0.5)), (0.14, (0, 0, 1)), (0.385, (0, 1, 1)), (0.51, (0, 1, 0.5)),
              (0.535, (0.4, 1, 0.25)), (0.6, (0.65, 1, 0)), (0.64, (1, 1, 0)), (0.745, (1, 0.6, 0)),
              (0.88, (1, 0, 0)), (1.0, (0.55, 0, 0))]
comsol_jet = LinearSegmentedColormap.from_list("comsol_jet", cmap_stops, N=512)

W, H = 4081, 1102
fig = plt.figure(figsize=(W / 100, H / 100), dpi=100, facecolor="white")
plt.rcParams["font.family"] = "DejaVu Sans"
FS = 27


def px_axes(x0, y0, x1, y1):
    return fig.add_axes([x0 / W, 1 - y1 / H, (x1 - x0) / W, (y1 - y0) / H])


def smooth_path(points):
    # catmull-rom through the read points, as bezier segments
    p = np.array(points, dtype=float)
    m = len(p)
    verts = [p[0]]
    codes = [Path.MOVETO]
    for i in range(m - 1):
        p0, p1, p2, p3 = p[max(i - 1, 0)], p[i], p[i + 1], p[min(i + 2, m - 1)]
        verts += [p1 + (p2 - p0) / 6, p2 - (p3 - p1) / 6, p2]
        codes += [Path.CURVE4] * 3
    return Path(verts, codes)


def build_rows(top, mid, low):
    rows = [r + [n] * 6 for r in top] + [mid] + [[n] * 5 + r for r in low]
    return np.array(rows)


def field_image(rows, spots):
    gx, gy = np.meshgrid(FIELD_X, FIELD_Y)
    ok = np.isfinite(rows)
    px = np.r_[gx[ok], SPOT_X]
    py = np.r_[gy[ok], SPOT_Y]
    pv = np.r_[rows[ok], spots]
    interp = mtri.LinearTriInterpolator(mtri.Triangulation(px, py), pv)
    xs = np.arange(-11.52, 0.03, 0.02)
    ys = np.arange(0.78, 7.87, 0.02)
    ix, iy = np.meshgrid(xs, ys)
    img = np.ma.filled(interp(ix, iy), np.nan)
    img = np.where(np.isfinite(img), img, np.nanmedian(img))
    # short box blur so the triangle facets do not show
    kernel = np.ones(7) / 7
    for _ in range(2):
        img = np.apply_along_axis(lambda v: np.convolve(np.pad(v, 3, mode="edge"), kernel, "valid"), 0, img)
        img = np.apply_along_axis(lambda v: np.convolve(np.pad(v, 3, mode="edge"), kernel, "valid"), 1, img)
    return img, (xs[0], xs[-1], ys[0], ys[-1])


def draw_panel(box, xlim, ylim, img, extent, vmin, vmax, x_vis, yl_vis, frame):
    ax = px_axes(*box)
    domain = Path(list(zip(DOMAIN_X, DOMAIN_Y)), closed=True)
    clip = PathPatch(domain, transform=ax.transData, facecolor="none", edgecolor="none")
    im = ax.imshow(img, origin="lower", extent=extent, cmap=comsol_jet, vmin=vmin, vmax=vmax,
                   interpolation="bilinear", aspect="auto", zorder=1)
    im.set_clip_path(clip)
    ax.set_xlim(*xlim)
    ax.set_ylim(*ylim)

    # dark falloff along the walls
    for lw, alpha in [(17, 0.10), (10, 0.14), (4, 0.35)]:
        edge = PathPatch(domain, fill=False, ec="black", lw=lw, alpha=alpha, zorder=2)
        ax.add_patch(edge)
        edge.set_clip_path(clip)

    for lines, lw in STREAM_STYLES:
        for pts in lines:
            line = PathPatch(smooth_path(pts), fill=False, ec="black", lw=lw, capstyle="round",
                             joinstyle="round", zorder=3)
            ax.add_patch(line)
            line.set_clip_path(clip)

    for x0, y0, x1, y1 in OBSTACLES:
        ax.add_patch(Rectangle((x0, y0), x1 - x0, y1 - y0, fc="white", ec="#222222", lw=1.6, zorder=4))
    ax.add_patch(PathPatch(domain, fill=False, ec="#200000", lw=1.6, zorder=5))

    ax.set_xticks(X_TICKS)
    ax.set_xticklabels([str(v) for v in X_TICKS], fontsize=FS)
    ax.set_yticks(Y_TICKS)
    ax.set_yticklabels(Y_LABELS, fontsize=FS)
    ax.tick_params(axis="x", direction="in", length=18, width=1.4, top=True, color=frame, pad=21, labelcolor="#111111")
    ax.tick_params(axis="y", direction="in", length=16, width=1.4, right=True, color=frame, pad=16, labelcolor="#111111")
    for tick, v in zip(ax.xaxis.get_major_ticks(), X_TICKS):
        tick.tick1line.set_visible(v in x_vis)
        tick.tick2line.set_visible(v in x_vis)
    for tick, v in zip(ax.yaxis.get_major_ticks(), Y_TICKS):
        tick.tick1line.set_visible(v in yl_vis)
        tick.tick2line.set_visible(v <= 5 and v != 4.5)
    for s in ax.spines.values():
        s.set_color(frame)
        s.set_linewidth(1.8)
    return ax


def draw_colorbar(x0, x1, vmin, vmax, ticks, labels, tri_x, text_x, top_text, bottom_text):
    cax = px_axes(x0, 152.5, x1, 991)
    ramp = np.linspace(vmin, vmax, 512).reshape(-1, 1)
    cax.imshow(ramp, origin="lower", aspect="auto", cmap=comsol_jet, vmin=vmin, vmax=vmax,
               extent=(0, 1, vmin, vmax))
    cax.set_xticks([])
    cax.set_yticks(ticks)
    cax.set_yticklabels(labels, fontsize=FS)
    cax.yaxis.tick_right()
    cax.tick_params(axis="y", direction="in", length=11, width=1.6, left=True, right=True, pad=20)
    for s in cax.spines.values():
        s.set_linewidth(3)
    fig.text(tri_x / W, 1 - 58 / H, "\u25B2", fontsize=FS, ha="left", va="center")
    fig.text(text_x / W, 1 - 58 / H, top_text, fontsize=FS, ha="left", va="center")
    fig.text(tri_x / W, 1 - 1048 / H, "\u25BC", fontsize=FS, ha="left", va="center")
    fig.text(text_x / W, 1 - 1048 / H, bottom_text, fontsize=FS, ha="left", va="center")


speed_rows = build_rows(SPEED_TOP, SPEED_MID, SPEED_LOW)
temp_rows = build_rows(TEMP_TOP, TEMP_MID, TEMP_LOW)
speed_img, extent = field_image(speed_rows, SPOT_SPEED)
temp_img, _ = field_image(temp_rows, SPOT_TEMP)

low_y = [0.5, 1, 1.5, 2, 2.5, 3, 3.5, 4, 5]
draw_panel((140, 35, 1647, 998), (-11.81, 0.363), (0.468, 8.184), speed_img, extent, 0, 0.67,
           [-2, 0], low_y, "#808080")
draw_panel((2249, 35, 3765, 998), (-11.83, 0.362), (0.468, 8.184), temp_img, extent, 23.7, 26.4,
           [-8, -6, -2, 0], [0.5], "#333333")

draw_colorbar(1757, 1823, 0, 0.67, SPEED_TICKS, [str(v) for v in SPEED_TICKS], 1698, 1743, "0.67", "0")
draw_colorbar(3876, 3942, 23.7, 26.36, TEMP_TICKS, ["24", "24.5", "25", "25.5", "26"], 3817, 3862, "26.4", "23.7")

fig.savefig("out.png", dpi=100)
